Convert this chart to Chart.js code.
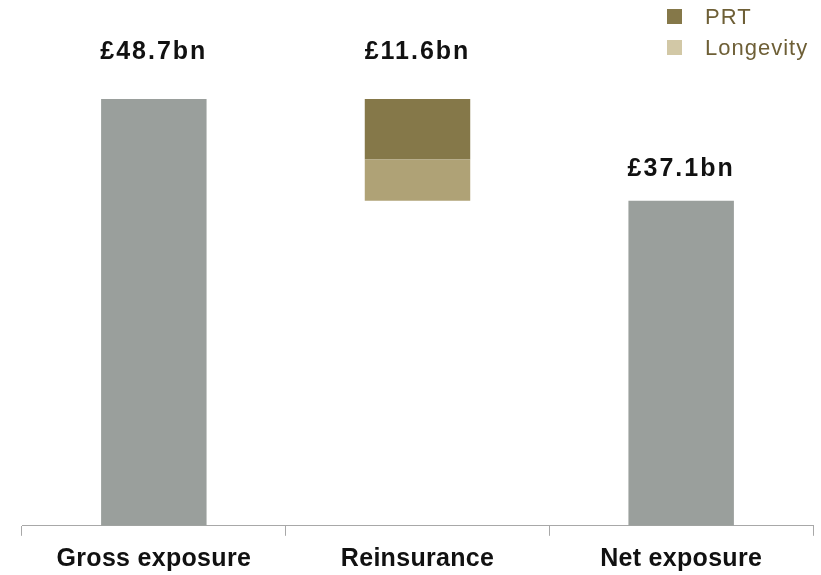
<!DOCTYPE html>
<html>
<head>
<meta charset="utf-8">
<script src="https://cdn.jsdelivr.net/npm/chart.js@4"></script>
<style>
  html, body { margin: 0; padding: 0; background: #fff; overflow: hidden; }
  #wrap { width: 821px; height: 593px; position: relative; }
</style>
</head>
<body>
<div id="wrap"><canvas id="chart"></canvas></div>
<script>
const categories = ['Gross exposure', 'Reinsurance', 'Net exposure'];
const exposure = [48.7, null, 37.1];
const prtValues = [null, 6.9, null];
const longevityValues = [null, 4.7, null];
const valueLabels = ['£48.7bn', '£11.6bn', '£37.1bn'];

const GREY = '#9a9f9c';
const PRT_COL = '#857849';
const LONG_COL = '#afa276';
const LONG_LEGEND = '#d2c8a6';

// reinsurance sits on top of the net bar
const longevityFloat = longevityValues.map((v, i) => v == null ? null : [exposure[2], exposure[2] + v]);
const prtFloat = prtValues.map((v, i) => v == null ? null : [exposure[2] + longevityValues[i], exposure[2] + longevityValues[i] + v]);

const labelGap = [47, 47, 32];

const overlay = {
  id: 'overlay',
  afterDraw(chart) {
    const ctx = chart.ctx;
    const x = chart.scales.x, y = chart.scales.y;
    ctx.save();
    ctx.fillStyle = '#111';
    ctx.font = 'bold 25px "Liberation Sans", Arial, sans-serif';
    ctx.letterSpacing = '2px';
    ctx.textAlign = 'center';
    ctx.textBaseline = 'middle';
    categories.forEach((c, i) => {
      const top = i === 1 ? prtFloat[i][1] : exposure[i];
      ctx.fillText(valueLabels[i], x.getPixelForValue(i), y.getPixelForValue(top) - labelGap[i]);
    });

    // category labels
    ctx.letterSpacing = '0.3px';
    categories.forEach((c, i) => {
      ctx.fillText(c, x.getPixelForValue(i), x.top + 33);
    });

    // legend
    const items = [['PRT', PRT_COL], ['Longevity', LONG_LEGEND]];
    ctx.font = '22px "Liberation Sans", Arial, sans-serif';
    ctx.letterSpacing = '1px';
    ctx.textAlign = 'left';
    items.forEach((it, k) => {
      const cy = 17 + k * 31;
      ctx.fillStyle = it[1];
      ctx.fillRect(667, cy - 8, 15, 15);
      ctx.fillStyle = '#6e5f36';
      ctx.fillText(it[0], 705, cy + 1);
    });
    ctx.restore();
  }
};

new Chart(document.getElementById('chart'), {
  type: 'bar',
  data: {
    labels: categories,
    datasets: [
      { label: 'Exposure', data: exposure, backgroundColor: GREY },
      { label: 'Longevity', data: longevityFloat, backgroundColor: LONG_COL },
      { label: 'PRT', data: prtFloat, backgroundColor: PRT_COL }
    ]
  },
  options: {
    responsive: true,
    maintainAspectRatio: false,
    animation: false,
    grouped: false,
    categoryPercentage: 1,
    barPercentage: 0.4,
    layout: { padding: { left: 22, right: 8, top: 0, bottom: 6 } },
    plugins: { legend: { display: false }, tooltip: { enabled: false } },
    scales: {
      x: {
        grid: { drawOnChartArea: false, tickLength: 10, color: '#a8a8a8', offset: true },
        border: { color: '#a8a8a8' },
        ticks: {
          color: 'rgba(0,0,0,0)',
          padding: 13,
          font: { family: '"Liberation Sans Narrow", "DejaVu Sans Condensed", sans-serif', size: 21, weight: 'bold' }
        }
      },
      y: { display: false, min: 0, max: 60 }
    }
  },
  plugins: [overlay]
});
</script>
</body>
</html>
